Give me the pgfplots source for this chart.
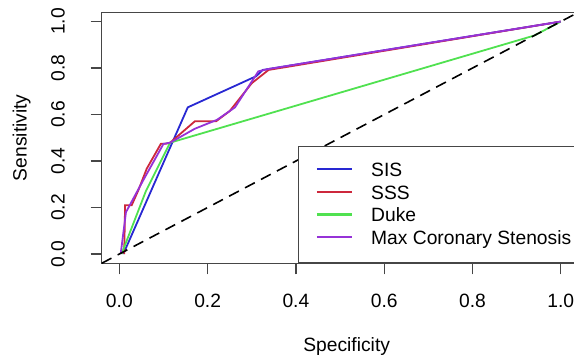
\documentclass[border=0pt]{standalone}
\usepackage{fontspec}
\setmainfont{Liberation Sans}
\usepackage{pgfplots}
\pgfplotsset{compat=1.18}
\definecolor{cBlue}{RGB}{40,40,210}
\definecolor{cRed}{RGB}{205,40,60}
\definecolor{cGreen}{RGB}{80,225,80}
\definecolor{cPurple}{RGB}{150,50,215}
\definecolor{frame}{RGB}{70,70,70}
\begin{document}
\fontsize{19.25}{23}\selectfont
\begin{tikzpicture}[font=\fontsize{19.25}{23}\selectfont]
\begin{axis}[
  at={(101.7pt,93.7pt)}, anchor=south west,
  scale only axis, width=476.7pt, height=251pt,
  xmin=-0.04, xmax=1.04, ymin=-0.04, ymax=1.04,
  axis line style={frame, line width=1.2pt},
  xtick={0,0.2,0.4,0.6,0.8,1}, xticklabels={0.0,0.2,0.4,0.6,0.8,1.0},
  ytick={0,0.2,0.4,0.6,0.8,1}, yticklabels={0.0,0.2,0.4,0.6,0.8,1.0},
  tick align=outside, major tick length=11pt,
  tick style={frame, line width=1.2pt},
  xtick pos=bottom, ytick pos=left,
  xticklabel style={anchor=base, yshift=-33pt},
  yticklabel style={xshift=-26pt, rotate=90, anchor=base},
  every axis x label/.style={at={(axis cs:0.515,-0.04)}, yshift=-88.5pt, anchor=base},
  every axis y label/.style={at={(axis cs:-0.04,0.5)}, xshift=-75pt, rotate=90, anchor=base},
  xlabel={Specificity}, ylabel={Sensitivity},
  legend cell align=left,
  legend style={at={(axis cs:0.4042,-0.04)}, anchor=south west,
    draw=frame, line width=1.2pt, fill=white,
    inner xsep=17.3pt, inner ysep=15pt, row sep=4.8pt,
    nodes={inner sep=0pt, text height=15pt, text depth=3pt},
    /tikz/every odd column/.append style={column sep=17.6pt}},
  legend image code/.code={\draw[line width=2.2pt] (0pt,1.5pt) -- (35.7pt,1.5pt);},
  every axis plot/.append style={line width=1.8pt},
]
% SIS
\addplot[cBlue] coordinates {
(0.009,0) (0.155,0.631) (0.31,0.765) (0.325,0.792) (1,1)};
\addlegendentry{SIS}
% SSS
\addplot[cRed] coordinates {
(0.011,0) (0.013,0.21) (0.028,0.21) (0.043,0.274) (0.062,0.367)
(0.094,0.474) (0.104,0.474) (0.115,0.479) (0.171,0.571) (0.219,0.571)
(0.25,0.615) (0.30,0.735) (0.338,0.792) (1,1)};
\addlegendentry{SSS}
% Duke
\addplot[cGreen] coordinates {
(0.005,0) (0.06,0.27) (0.115,0.479) (0.94,0.94) (1,1)};
\addlegendentry{Duke}
% Max Coronary Stenosis
\addplot[cPurple] coordinates {
(0.003,0) (0.015,0.18) (0.054,0.317) (0.10,0.474) (0.115,0.479)
(0.171,0.539) (0.221,0.577) (0.262,0.631) (0.315,0.786) (0.338,0.796) (1,1)};
\addlegendentry{Max Coronary Stenosis}
% diagonal
\addplot[black, line width=1.6pt, dash pattern=on 11pt off 7pt, forget plot]
coordinates {(-0.04,-0.04) (1.04,1.04)};
\end{axis}
\pgfresetboundingbox
\useasboundingbox (0pt,0pt) rectangle (574pt,357pt);
\end{tikzpicture}
\end{document}
